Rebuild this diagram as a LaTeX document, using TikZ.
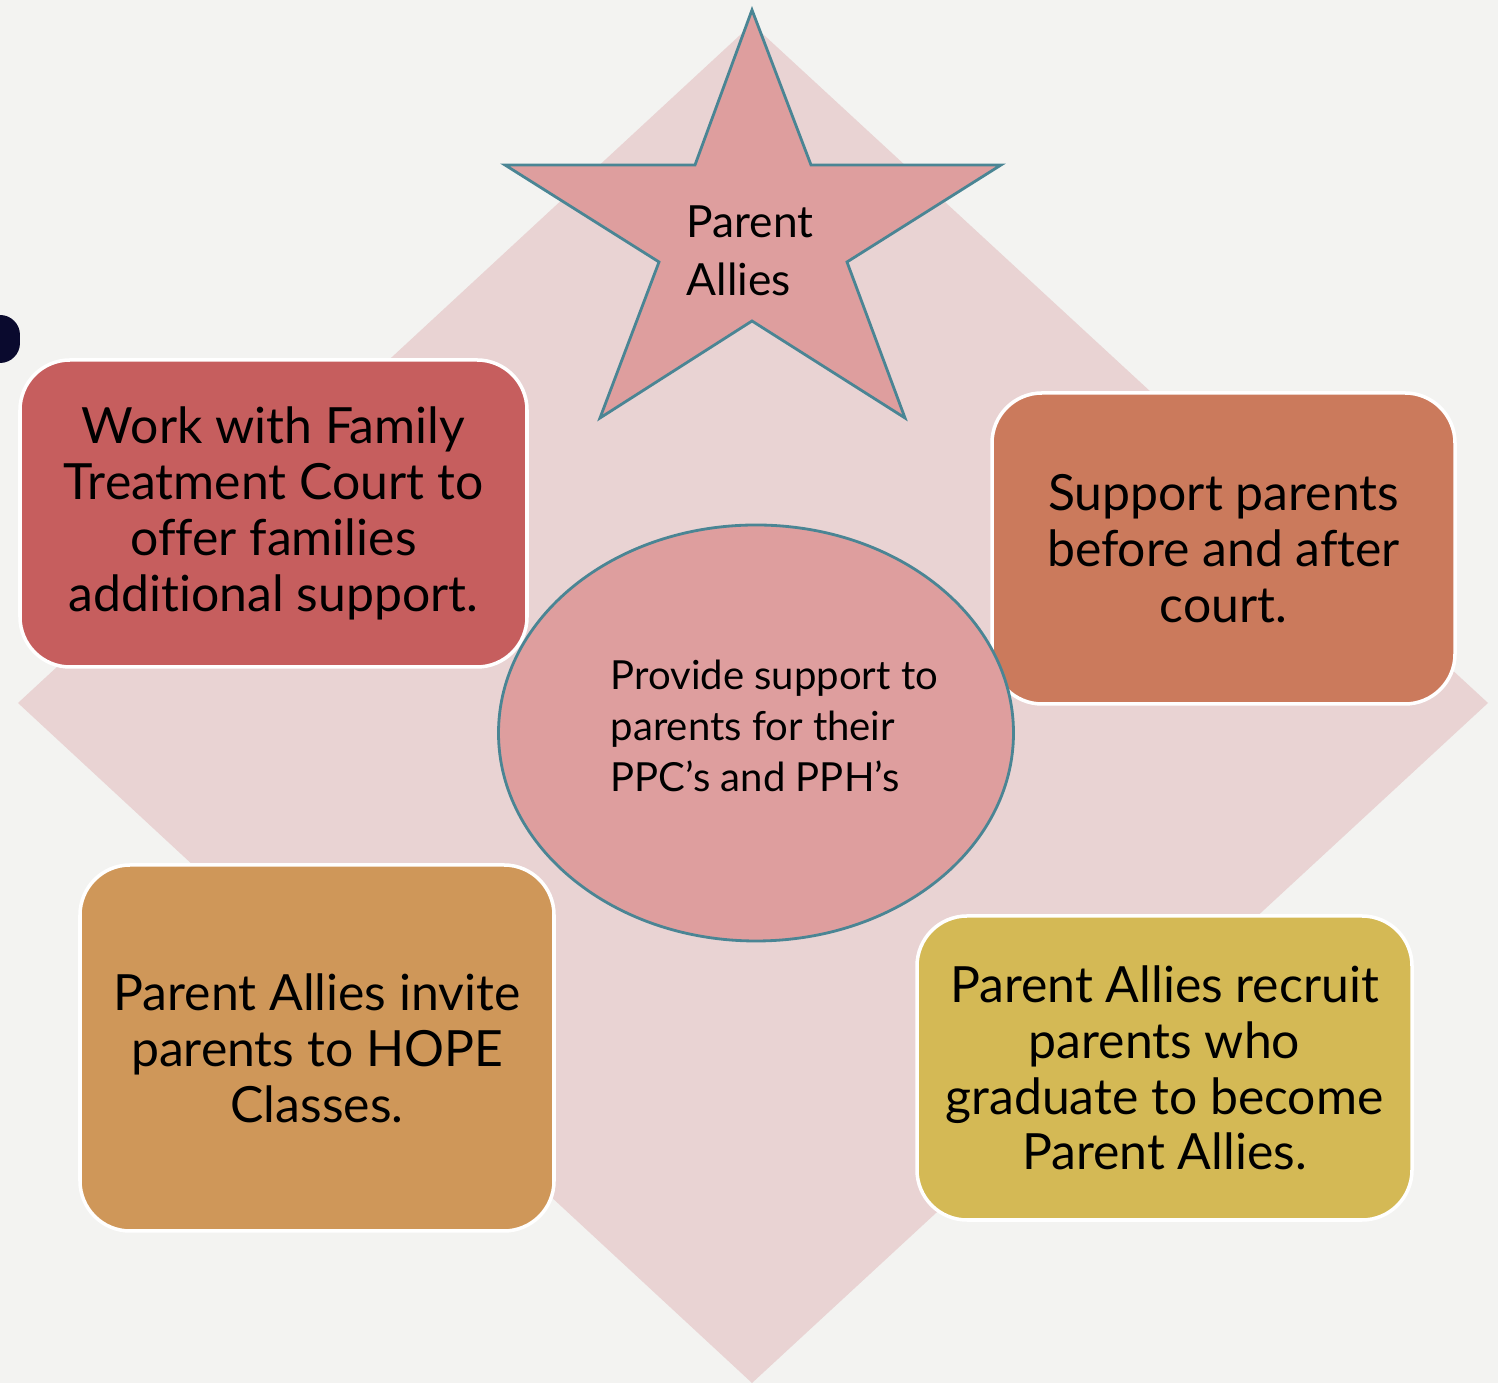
\documentclass[tikz,border=0pt]{standalone}
\usepackage{fontspec}
\setmainfont{Lato}[Ligatures=NoCommon]
\usepackage{tikz}
\usetikzlibrary{shapes.geometric}
\definecolor{pagebg}{HTML}{F3F3F1}
\definecolor{diamondbg}{HTML}{E9D3D3}
\definecolor{starfill}{HTML}{DE9E9E}
\definecolor{tealline}{HTML}{4A8594}
\definecolor{boxred}{HTML}{C65E5E}
\definecolor{boxorange}{HTML}{CB7A5C}
\definecolor{boxtan}{HTML}{CF9759}
\definecolor{boxyellow}{HTML}{D4B955}
\definecolor{inkblob}{HTML}{0A0A2E}
\tikzset{
	taskbox/.style={draw=white, line width=1pt, rounded corners=0.5cm, align=center,
		inner sep=0pt, font=\fontsize{14.2pt}{15.9pt}\selectfont},
	hubtext/.style={align=left, inner sep=0pt, font=\fontsize{11.4pt}{14.5pt}\selectfont}
}
\begin{document}
\begin{tikzpicture}
		\useasboundingbox (0,0) rectangle (14.98,13.83);
		\clip (0,0) rectangle (14.98,13.83);
		% page
		\fill[pagebg] (0,0) rectangle (14.98,13.83);
		\fill[inkblob, rounded corners=0.2cm] (-0.4,10.20) rectangle (0.20,10.68);
		% diamond backdrop
		\fill[diamondbg] (7.52,13.59) -- (14.88,6.80) -- (7.52,0) -- (0.18,6.80) -- cycle;
		% star
		\draw[tealline, fill=starfill, line width=0.8pt, line join=miter]
			(7.52,13.73) -- (8.11,12.18) -- (10.01,12.18) -- (8.47,11.21) -- (9.05,9.65)
			-- (7.52,10.62) -- (6.00,9.65) -- (6.59,11.21) -- (5.05,12.18) -- (6.95,12.18) -- cycle;
		\node[anchor=west, align=left, inner sep=0pt, font=\fontsize{12.6pt}{16.5pt}\selectfont]
			(allies) at (6.86,11.32) {Parent\\Allies};
		% boxes
		\node[taskbox, fill=boxred, minimum width=5.07cm, minimum height=3.07cm]
			(court) at (2.735,8.695) {Work with Family\\Treatment Court to\\offer families\\additional support.};
		\node[taskbox, fill=boxorange, minimum width=4.63cm, minimum height=3.11cm]
			(support) at (12.235,8.345) {Support parents\\before and after\\court.};
		\node[taskbox, fill=boxtan, minimum width=4.74cm, minimum height=3.66cm]
			(hope) at (3.17,3.35) {Parent Allies invite\\parents to HOPE\\Classes.};
		\node[taskbox, fill=boxyellow, minimum width=4.95cm, minimum height=3.04cm]
			(recruit) at (11.645,3.15) {Parent Allies recruit\\parents who\\graduate to become\\Parent Allies.};
		% centre ellipse
		\node[ellipse, draw=tealline, fill=starfill, line width=0.8pt,
			minimum width=5.15cm, minimum height=4.16cm] (hub) at (7.56,6.50) {};
		\node[hubtext, anchor=west] (hubnote) at (6.10,6.57) {Provide support to\\parents for their\\PPC’s and PPH’s};
	\end{tikzpicture}
\end{document}
